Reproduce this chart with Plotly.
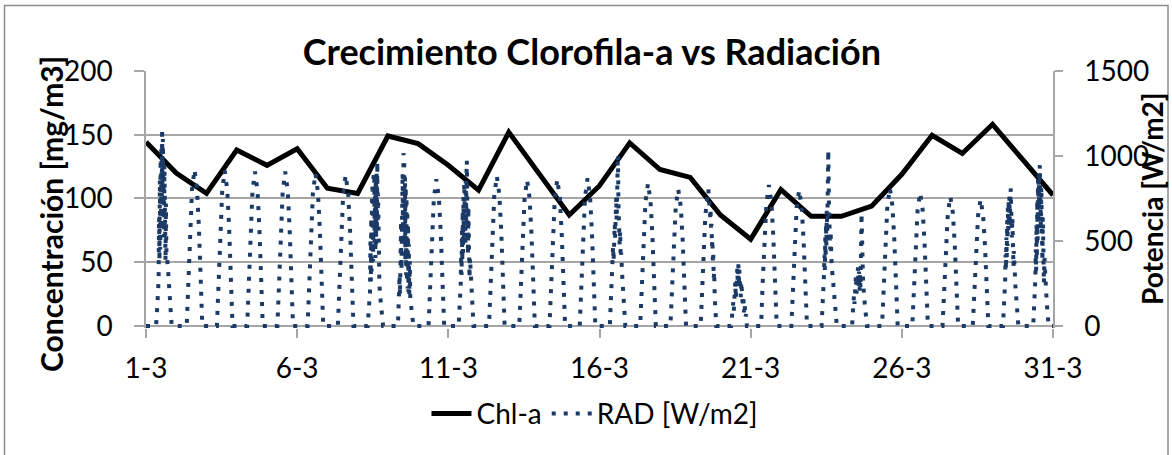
import pandas as pd
import plotly.graph_objects as go

# ---------------- data ----------------
chl_day = list(range(1, 32))
chl_value = [144.4, 120, 104, 138, 126, 139, 108, 104, 149, 143, 126, 106.5, 152, 119, 87,
             110, 143.6, 122.7, 116.5, 87, 68, 107, 86, 86, 94, 119, 149.6, 135.3, 158.2,
             130.4, 102.6]

tick_day = [1, 6, 11, 16, 21, 26, 31]
tick_text = ["1-3", "6-3", "11-3", "16-3", "21-3", "26-3", "31-3"]

# RAD [W/m2]: (hour of day, value) read per day
rad_start = [(0.0, 0)]
rad_d01 = [(8.0, 0), (9.0, 120), (10.0, 270), (10.4, 640), (10.7, 380), (11.0, 860), (11.3, 450),
           (11.6, 980), (11.9, 600), (12.2, 1060), (12.5, 720), (12.8, 1163), (13.1, 800),
           (13.4, 1100), (13.7, 650), (14.0, 1020), (14.3, 520), (14.6, 950), (14.9, 430),
           (15.2, 880), (15.5, 380), (15.8, 720), (16.2, 440), (17.5, 330), (18.7, 190),
           (19.7, 70), (20.4, 0)]
rad_d02 = [(8.3, 0), (9.5, 276), (11, 580), (12.5, 800), (14.5, 920), (16.5, 805), (18, 581), (19.5, 274), (20.7, 0)]
rad_d03 = [(8.3, 0), (9.5, 274), (11, 576), (12.5, 795), (14.5, 914), (16.5, 800), (18, 578), (19.5, 272), (20.7, 0)]
rad_d04 = [(8.3, 0), (9.5, 272), (11, 572), (12.5, 790), (14.5, 908), (16.5, 795), (18, 574), (19.5, 271), (20.7, 0)]
rad_d05 = [(8.3, 0), (9.5, 272), (11, 572), (12.5, 790), (14.5, 908), (16.5, 795), (18, 574), (19.5, 271), (20.7, 0)]
rad_d06 = [(8.3, 0), (9.5, 269), (11, 566), (12.5, 781), (14.5, 898), (16.5, 786), (18, 568), (19.5, 268), (20.7, 0)]
rad_d07 = [(8.3, 0), (9.5, 266), (11, 559), (12.5, 773), (14.5, 888), (16.5, 777), (18, 561), (19.5, 265), (20.7, 0)]
rad_d08 = [(8.0, 0), (9.0, 80), (9.8, 200), (10.2, 520), (10.5, 260), (10.8, 640), (11.1, 320),
           (11.4, 760), (11.7, 420), (12.0, 840), (12.3, 380), (12.6, 880), (12.9, 520),
           (13.2, 900), (13.5, 450), (13.8, 820), (14.1, 400), (14.4, 860), (14.7, 480),
           (15.0, 900), (15.3, 560), (15.6, 966), (15.9, 600), (16.2, 780), (16.5, 350),
           (16.9, 560), (17.3, 240), (18.0, 170), (19.0, 90), (20.2, 0)]
rad_d09 = [(8.0, 0), (8.8, 140), (9.3, 300), (9.6, 180), (9.9, 450), (10.2, 250), (10.5, 620),
           (10.8, 330), (11.1, 780), (11.4, 420), (11.7, 900), (12.0, 560), (12.4, 1016),
           (12.7, 640), (13.0, 960), (13.3, 480), (13.6, 880), (13.9, 380), (14.2, 820),
           (14.5, 300), (14.8, 760), (15.1, 260), (15.4, 680), (15.7, 220), (16.0, 600),
           (16.3, 200), (16.6, 480), (17.0, 180), (17.4, 380), (17.8, 160), (18.5, 120),
           (19.4, 60), (20.3, 0)]
rad_d10 = [(8.3, 0), (9.5, 259), (11, 544), (12.5, 751), (14.5, 863), (16.5, 755), (18, 545), (19.5, 257), (20.7, 0)]
rad_d11 = [(8.2, 0), (9.0, 90), (9.8, 240), (10.2, 420), (10.5, 300), (10.8, 560), (11.1, 380),
           (11.4, 680), (11.7, 430), (12.0, 760), (12.3, 500), (12.6, 840), (12.9, 560),
           (13.2, 800), (13.5, 470), (13.8, 853), (14.1, 600), (14.4, 900), (14.7, 972),
           (15.0, 640), (15.3, 820), (15.6, 420), (15.9, 700), (16.2, 330), (16.5, 560),
           (16.8, 280), (17.2, 400), (18.0, 250), (19.0, 110), (20.0, 0)]
rad_d12 = [(8.3, 0), (9.5, 265), (11, 556), (12.5, 767), (14.5, 882), (16.5, 772), (18, 557), (19.5, 263), (20.7, 0)]
rad_d13 = [(8.3, 0), (9.5, 258), (11, 541), (12.5, 747), (14.5, 859), (16.5, 752), (18, 543), (19.5, 256), (20.7, 0)]
rad_d14 = [(8.3, 0), (9.5, 259), (11, 544), (12.5, 751), (14.5, 863), (16.5, 755), (18, 545), (19.5, 257), (20.7, 0)]
rad_d15 = [(8.3, 0), (9.5, 261), (11, 547), (12.5, 756), (14.5, 869), (16.5, 760), (18, 549), (19.5, 259), (20.7, 0)]
rad_d16 = [(8.2, 0), (9.2, 150), (10.2, 330), (10.8, 470), (11.2, 380), (11.5, 520), (11.8, 430),
           (12.1, 600), (12.4, 520), (12.7, 700), (13.0, 560), (13.3, 760), (13.6, 620),
           (14.0, 720), (14.6, 1006), (15.1, 700), (15.4, 520), (15.7, 640), (16.0, 480),
           (16.4, 560), (16.8, 400), (17.2, 430), (18.0, 300), (19.0, 160), (20.5, 0)]
rad_d17 = [(8.3, 0), (9.5, 252), (11, 529), (12.5, 730), (14.5, 839), (16.5, 734), (18, 530), (19.5, 250), (20.7, 0)]
rad_d18 = [(8.3, 0), (9.5, 241), (11, 507), (12.5, 699), (14.5, 804), (16.5, 704), (18, 508), (19.5, 240), (20.7, 0)]
rad_d19 = [(8.3, 0), (10.0, 340), (12.0, 650), (14.4, 804), (15.2, 720), (15.5, 760), (15.9, 640),
           (16.2, 680), (16.6, 560), (16.9, 600), (17.3, 470), (17.6, 510), (18.0, 380),
           (18.3, 420), (18.7, 280), (19.0, 320), (19.5, 170), (20.0, 100), (20.7, 0)]
rad_d20 = [(8.5, 0), (9.5, 60), (10.2, 140), (10.6, 90), (11.0, 200), (11.4, 120), (11.8, 260),
           (12.2, 160), (12.6, 300), (13.0, 200), (13.4, 340), (13.8, 230), (14.2, 369),
           (14.6, 240), (15.0, 330), (15.4, 200), (15.8, 300), (16.2, 170), (16.6, 260),
           (17.0, 140), (17.4, 220), (17.8, 110), (18.2, 180), (18.7, 80), (19.2, 130),
           (19.8, 50), (20.4, 70), (21.0, 0)]
rad_d21 = [(8.3, 0), (9.5, 249), (11, 522), (12.5, 721), (14.5, 829), (16.5, 725), (18, 524), (19.5, 247), (20.7, 0)]
rad_d22 = [(8.3, 0), (9.5, 240), (11, 504), (12.5, 696), (14.5, 800), (16.5, 700), (18, 506), (19.5, 238), (20.7, 0)]
rad_d23 = [(8.3, 0), (9.2, 120), (10.2, 300), (10.6, 420), (10.9, 330), (11.2, 520), (11.5, 400),
           (11.8, 600), (12.1, 470), (12.4, 680), (12.8, 560), (13.6, 1035), (14.2, 700),
           (14.5, 560), (14.8, 640), (15.1, 450), (15.4, 560), (15.7, 380), (16.0, 480),
           (16.4, 340), (17.0, 300), (18.2, 200), (19.3, 100), (20.4, 0)]
rad_d24 = [(8.5, 0), (9.5, 100), (10.0, 180), (10.4, 130), (10.8, 260), (11.2, 160), (11.6, 300),
           (12.0, 190), (12.4, 330), (12.8, 210), (13.2, 345), (13.6, 230), (14.0, 320),
           (14.4, 200), (14.8, 300), (15.2, 220), (16.0, 663), (16.6, 420), (17.2, 270),
           (18.2, 160), (19.2, 70), (20.3, 0)]
rad_d25 = [(8.3, 0), (9.5, 243), (11, 510), (12.5, 705), (14.5, 810), (16.5, 709), (18, 512), (19.5, 241), (20.7, 0)]
rad_d26 = [(8.3, 0), (9.5, 235), (11, 494), (12.5, 682), (14.5, 784), (16.5, 686), (18, 495), (19.5, 234), (20.7, 0)]
rad_d27 = [(8.3, 0), (9.5, 228), (11, 479), (12.5, 662), (14.5, 761), (16.5, 666), (18, 481), (19.5, 227), (20.7, 0)]
rad_d28 = [(8.3, 0), (9.5, 224), (11, 469), (12.5, 648), (14.5, 745), (16.5, 652), (18, 471), (19.5, 222), (20.7, 0)]
rad_d29 = [(8.3, 0), (9.3, 130), (10.0, 260), (10.4, 420), (10.7, 330), (11.0, 520), (11.3, 400),
           (11.6, 620), (11.9, 470), (12.2, 700), (12.5, 540), (12.8, 740), (13.1, 580),
           (13.4, 761), (13.7, 620), (14.4, 810), (14.8, 640), (15.1, 720), (15.4, 520),
           (15.7, 640), (16.0, 430), (16.3, 540), (16.6, 350), (16.9, 440), (17.3, 310),
           (18.2, 230), (19.3, 120), (20.5, 0)]
rad_d30 = [(8.3, 0), (9.2, 120), (10.0, 276), (10.3, 450), (10.6, 320), (10.9, 600), (11.2, 400),
           (11.5, 740), (11.8, 500), (12.1, 860), (12.4, 600), (12.7, 900), (13.0, 700),
           (13.5, 947), (13.8, 720), (14.1, 880), (14.4, 560), (14.7, 820), (15.0, 460),
           (15.3, 760), (15.6, 380), (15.9, 640), (16.2, 300), (16.5, 520), (16.8, 250),
           (17.2, 400), (18.0, 270), (19.0, 140), (20.5, 0)]
rad_end = [(0.0, 0)]

rad_by_day = [rad_d01, rad_d02, rad_d03, rad_d04, rad_d05, rad_d06, rad_d07, rad_d08, rad_d09,
              rad_d10, rad_d11, rad_d12, rad_d13, rad_d14, rad_d15, rad_d16, rad_d17, rad_d18,
              rad_d19, rad_d20, rad_d21, rad_d22, rad_d23, rad_d24, rad_d25, rad_d26, rad_d27,
              rad_d28, rad_d29, rad_d30]

# ---------------- build ----------------
base = pd.Timestamp("2014-03-01")


def ts(day, hour=0.0):
    return base + pd.Timedelta(days=day - 1) + pd.Timedelta(hours=hour)


rad_x, rad_y = [], []
for h, v in rad_start:
    rad_x.append(ts(1, h)); rad_y.append(v)
for i, pts in enumerate(rad_by_day):
    for h, v in pts:
        rad_x.append(ts(i + 1, h)); rad_y.append(v)
for h, v in rad_end:
    rad_x.append(ts(31, h)); rad_y.append(v)

chl_x = [ts(d) for d in chl_day]

FONT = "Lato"
GRID = "#A6A6A6"
NAVY = "#1B3A66"

fig = go.Figure()
fig.add_trace(go.Scatter(x=chl_x, y=chl_value, name="Chl-a", mode="lines",
                         line=dict(color="black", width=5), yaxis="y"))
fig.add_trace(go.Scatter(x=rad_x, y=rad_y, name="RAD [W/m2]", mode="lines",
                         line=dict(color=NAVY, width=4, dash="4px,8px"), yaxis="y2"))

fig.update_layout(
    width=1172, height=455,
    margin=dict(l=146, r=119, t=71, b=127, autoexpand=False),
    paper_bgcolor="white", plot_bgcolor="white",
    font=dict(family=FONT, size=28, color="black"),
    title=dict(text="<b>Crecimiento Clorofila-a vs Radiación</b>",
               font=dict(family=FONT, size=36, color="black"),
               x=0.505, xref="container", xanchor="center",
               y=0.885, yref="container", yanchor="middle"),
    xaxis=dict(type="date", range=[ts(1), ts(31)], automargin=False,
               tickvals=[ts(d) for d in tick_day], ticktext=tick_text,
               showgrid=False, showline=False, zeroline=False,
               ticks="outside", ticklen=9, tickwidth=1.5, tickcolor=GRID,
               ticklabelstandoff=6,
               tickfont=dict(family=FONT, size=28, color="black")),
    yaxis=dict(range=[-1.6, 200], tickvals=[0, 50, 100, 150, 200], automargin=False,
               showgrid=True, gridcolor=GRID, gridwidth=1.5,
               zeroline=True, zerolinecolor=GRID, zerolinewidth=1.5,
               showline=True, linecolor=GRID, linewidth=1.5,
               ticks="outside", ticklen=10, tickwidth=1.5, tickcolor=GRID,
               ticklabelstandoff=16,
               tickfont=dict(family=FONT, size=28, color="black")),
    yaxis2=dict(range=[-12, 1500], tickvals=[0, 500, 1000, 1500], automargin=False,
                overlaying="y", side="right", showgrid=False, zeroline=False,
                showline=True, linecolor=GRID, linewidth=1.5,
                ticks="outside", ticklen=8, tickwidth=1.5, tickcolor=GRID,
                ticklabelstandoff=16,
                tickfont=dict(family=FONT, size=28, color="black")),
    legend=dict(orientation="h", x=0.495, xanchor="center", y=-0.334, yanchor="middle",
                font=dict(family=FONT, size=28, color="black"),
                bgcolor="rgba(0,0,0,0)", itemwidth=40),
    showlegend=True,
    annotations=[
        dict(text="<b>Concentración [mg/m3]</b>", xref="paper", yref="paper",
             x=-0.1047, y=0.4436, textangle=-90, showarrow=False,
             xanchor="center", yanchor="middle",
             font=dict(family=FONT, size=30, color="black")),
        dict(text="<b>Potencia [W/m2]</b>", xref="paper", yref="paper",
             x=(1152 - 146) / 907, y=0.502, textangle=-90, showarrow=False,
             xanchor="center", yanchor="middle",
             font=dict(family=FONT, size=28, color="black")),
    ],
    shapes=[
        dict(type="rect", xref="paper", yref="paper",
             x0=-0.156, x1=1.1268, y0=-0.553, y1=1.2549,
             line=dict(color="#8C8C8C", width=1.5), fillcolor="rgba(0,0,0,0)", layer="below"),
    ],
)

fig.write_html("out.html", config={"displayModeBar": False},
               post_script="document.body.style.margin='0px';")
